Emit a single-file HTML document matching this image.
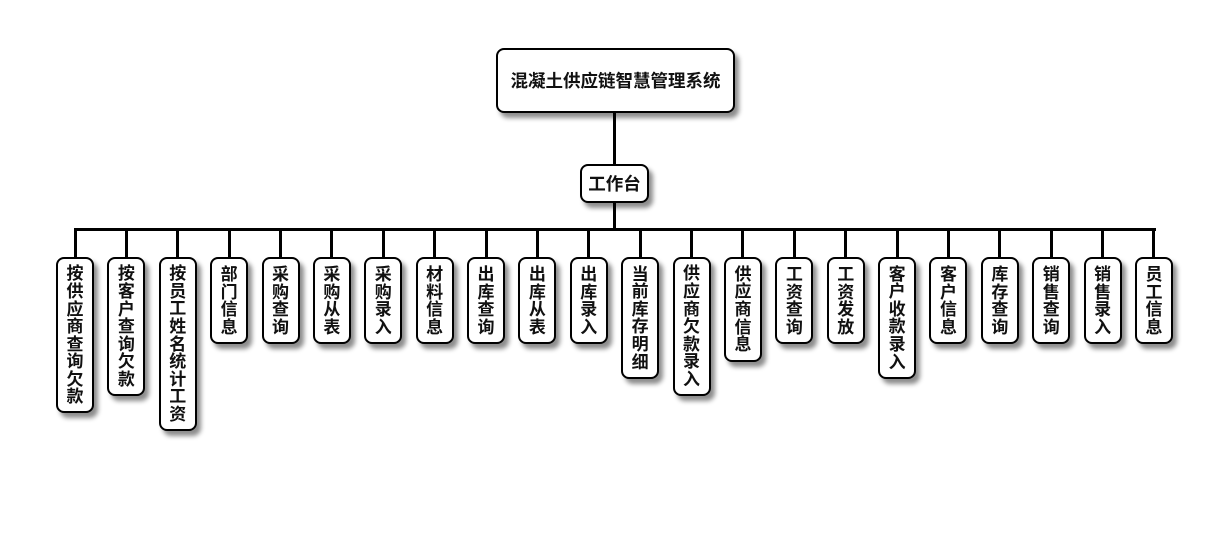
<!DOCTYPE html>
<html><head><meta charset="utf-8"><style>
body{margin:0;width:1230px;height:560px;background:#fff;position:relative;overflow:hidden;font-family:"Liberation Sans","Noto Sans CJK SC",sans-serif;font-weight:bold;color:#111}
.b{position:absolute;background:#fff;border:2px solid #000;border-radius:8px;box-shadow:4px 5px 5px rgba(0,0,0,.45);box-sizing:border-box;display:flex;align-items:center;justify-content:center}
.l{position:absolute;width:38px;top:257px;font-size:17px;line-height:17.6px;text-align:center;padding-top:1px;display:flex;align-items:center;justify-content:center}
.ln{position:absolute;background:#000}
</style></head><body>
<div class="ln" style="left:613px;top:110px;width:3px;height:56px"></div>
<div class="ln" style="left:613px;top:200px;width:3px;height:30px"></div>
<div class="ln" style="left:74px;top:228px;width:1082px;height:3px"></div>
<div class="b" style="left:496px;top:48px;width:239px;height:65px;font-size:17.5px">混凝土供应链智慧管理系统</div>
<div class="b" style="left:580px;top:164px;width:69px;height:39px;font-size:17.5px">工作台</div>
<div id="c"></div>
<script>
var t=["按供应商查询欠款","按客户查询欠款","按员工姓名统计工资","部门信息","采购查询","采购从表","采购录入","材料信息","出库查询","出库从表","出库录入","当前库存明细","供应商欠款录入","供应商信息","工资查询","工资发放","客户收款录入","客户信息","库存查询","销售查询","销售录入","员工信息"];
var h="";
for(var i=0;i<t.length;i++){var cx=75+i*51.38;
h+='<div class="ln" style="left:'+(cx-1.5)+'px;top:229px;width:3px;height:30px"></div>';
h+='<div class="b l" style="left:'+(cx-19)+'px;height:'+(t[i].length*17.3+18)+'px"><div>'+t[i].split("").join("<br>")+'</div></div>';}
document.getElementById("c").innerHTML=h;
</script>
</body></html>
